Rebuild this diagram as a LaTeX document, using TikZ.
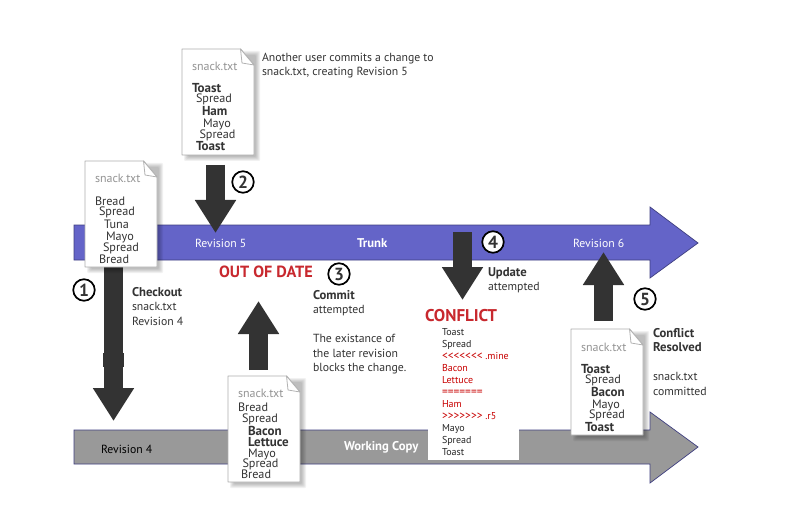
\documentclass[tikz,border=0pt]{standalone}
\usepackage{fontspec}
\setmainfont{PT Sans}
\usetikzlibrary{arrows.meta}
\definecolor{ink}{HTML}{333333}
\definecolor{trunkblue}{HTML}{6464C8}
\definecolor{edgeblue}{HTML}{3F3F80}
\definecolor{wcgray}{HTML}{999999}
\definecolor{alertred}{HTML}{C8282E}
\definecolor{mergered}{HTML}{C80000}
\tikzset{
  x=1pt,y=-1pt,
  lane/.style={draw=edgeblue,line width=0.7pt,line join=miter},
  blockarrow/.style={draw=ink,line width=19.5pt,-{Triangle[length=33pt,width=39pt,color=ink]}},
  docsheet/.style={draw=black!32,line width=0.9pt,fill=white,line join=round},
  docfold/.style={draw=black!30,line width=0.8pt,fill=white,line join=round},
  txt/.style={anchor=base west,inner sep=0pt,outer sep=0pt,font=\fontsize{11.75}{13}\selectfont,text=ink},
  doctxt/.style={txt,font=\fontsize{12.2}{13}\selectfont},
  docbold/.style={doctxt,font=\fontsize{13}{13}\selectfont\bfseries},
  doctitle/.style={txt,font=\fontsize{12}{13}\selectfont,text=black!42},
  boldtxt/.style={txt,font=\fontsize{12.7}{13}\selectfont\bfseries},
  lanetxt/.style={txt,text=white},
  lanebold/.style={boldtxt,text=white},
  alert/.style={txt,font=\fontsize{16.2}{16}\selectfont\bfseries,text=alertred},
  mtxt/.style={txt,font=\fontsize{10}{12}\selectfont,text=black!85},
  mred/.style={mtxt,text=mergered},
  stepmark/.style={circle,draw=black,line width=1.7pt,fill=white,minimum size=21.5pt,inner sep=0pt,font=\fontsize{17.5}{17}\selectfont\bfseries,text=ink},
}
\newcommand{\docshape}[2]{% top-left corner
  \begin{scope}[shift={(#1,#2)}]
    \foreach \e in {0,1,2,3,4}{
      \fill[black,opacity=0.055,rounded corners=1pt] (6-\e,6-\e) rectangle (74+\e,108+\e);
    }
    \draw[docsheet] (0,0) -- (58.5,0) -- (72,16) -- (72,106) -- (0,106) -- cycle;
    \draw[docfold] (58.5,0) -- (60,14) -- (72,16) -- cycle;
  \end{scope}}
\begin{document}
\begin{tikzpicture}
\useasboundingbox[fill=white] (0,0) rectangle (800,513);
% lanes
\draw[lane,fill=trunkblue] (74,225) -- (650,225) -- (650,207) -- (698,243) -- (650,278) -- (650,260) -- (74,260) -- cycle;
\draw[lane,fill=wcgray] (74,430) -- (650,430) -- (650,412) -- (698,447) -- (650,483) -- (650,464) -- (74,464) -- cycle;
% merge sheet backing
\fill[white] (428,322) rectangle (519,460);
% coordinates for arrows
\coordinate (c1a) at (113.5,262);
\coordinate (c1b) at (113.5,421);
\coordinate (c2a) at (215.5,165);
\coordinate (c2b) at (215.5,233);
\coordinate (c3a) at (258.5,370);
\coordinate (c3b) at (258.5,301);
\coordinate (c4a) at (462.5,232);
\coordinate (c4b) at (462.5,300);
\coordinate (c5a) at (603.5,321);
\coordinate (c5b) at (603.5,252);
\draw[blockarrow] (c1a) -- (c1b);
\fill[ink] (103.2,353) rectangle (123.8,367);
\draw[blockarrow] (c2a) -- (c2b);
\draw[blockarrow] (c3a) -- (c3b);
\draw[blockarrow] (c4a) -- (c4b);
\draw[blockarrow] (c5a) -- (c5b);
% documents
\docshape{182}{49}
\docshape{85}{161}
\docshape{228}{376}
\docshape{571}{329}
% doc 2
\node[doctitle] (b0) at (192,71) {snack.txt};
\node[docbold] (b1) at (192,93) {Toast};
\node[doctxt] (b2) at (196,103) {Spread};
\node[docbold] (b3) at (202,116) {Ham};
\node[doctxt] (b4) at (203,128) {Mayo};
\node[doctxt] (b5) at (199.5,139) {Spread};
\node[docbold] (b6) at (196,151) {Toast};
\node[txt] (an1) at (262,62) {Another user commits a change to};
\node[txt] (an2) at (262,76) {snack.txt, creating Revision 5};
% doc 1
\node[doctitle] (a0) at (95,183) {snack.txt};
\node[doctxt] (a1) at (95,205) {Bread};
\node[doctxt] (a2) at (99,215) {Spread};
\node[doctxt] (a3) at (104,228) {Tuna};
\node[doctxt] (a4) at (106,240) {Mayo};
\node[doctxt] (a5) at (103,251) {Spread};
\node[doctxt] (a6) at (99,263) {Bread};
% lane labels
\node[lanetxt] (r5) at (195,247) {Revision 5};
\node[lanebold] (trunk) at (357,247) {Trunk};
\node[lanetxt] (r6) at (573,247) {Revision 6};
\node[txt,text=black] (r4) at (101,453) {Revision 4};
\node[lanebold] (wc) at (344,450) {Working Copy};
% out of date
\node[alert] (ood) at (219,277) {OUT OF DATE};
\node[boldtxt] (co1) at (132,296) {Checkout};
\node[txt] (co2) at (132,310) {snack.txt};
\node[txt] (co3) at (132,325) {Revision 4};
\node[boldtxt] (cm1) at (313,299) {Commit};
\node[txt] (cm2) at (313,313) {attempted};
\node[txt] (cm3) at (313,342) {The existance of};
\node[txt] (cm4) at (313,357) {the later revision};
\node[txt] (cm5) at (313,371) {blocks the change.};
% doc 3
\node[doctitle] (d0) at (238,397) {snack.txt};
\node[doctxt] (d1) at (238,411) {Bread};
\node[doctxt] (d2) at (242,422) {Spread};
\node[docbold] (d3) at (248,435) {Bacon};
\node[docbold] (d4) at (248,446) {Lettuce};
\node[doctxt] (d5) at (248,457) {Mayo};
\node[doctxt] (d6) at (242.5,467) {Spread};
\node[doctxt] (d7) at (241,478) {Bread};
% update
\node[boldtxt] (up1) at (488,276) {Update};
\node[txt] (up2) at (488,290) {attempted};
\node[alert,font=\fontsize{17}{17}\selectfont\bfseries] (conf) at (425,321) {CONFLICT};
\node[mtxt] (m1) at (442,335) {Toast};
\node[mtxt] (m2) at (442,347) {Spread};
\node[mred] (m3) at (442,359) {{\fontsize{11.5}{12}\selectfont<{}<{}<{}<{}<{}<{}<} .mine};
\node[mred] (m4) at (442,371) {Bacon};
\node[mred] (m5) at (442,383) {Lettuce};
\node[mred] (m6) at (442,395) {{\fontsize{11.5}{12}\selectfont=======}};
\node[mred] (m7) at (442,407) {Ham};
\node[mred] (m8) at (442,419) {{\fontsize{11.5}{12}\selectfont>{}>{}>{}>{}>{}>{}>} .r5};
\node[mtxt] (m9) at (442,431) {Mayo};
\node[mtxt] (m10) at (442,443) {Spread};
\node[mtxt] (m11) at (442,455) {Toast};
% doc 5
\node[doctitle] (e0) at (581,351) {snack.txt};
\node[docbold] (e1) at (581,373) {Toast};
\node[doctxt] (e2) at (585,383) {Spread};
\node[docbold] (e3) at (591,396) {Bacon};
\node[doctxt] (e4) at (592,408) {Mayo};
\node[doctxt] (e5) at (589,418) {Spread};
\node[docbold] (e6) at (585,431) {Toast};
\node[boldtxt] (cr1) at (653,337) {Conflict};
\node[boldtxt] (cr2) at (653,351) {Resolved};
\node[txt] (cr3) at (653,380) {snack.txt};
\node[txt] (cr4) at (653,395) {committed};
% step marks
\node[stepmark] (s1) at (84,290) {1};
\node[stepmark] (s2) at (243,182) {2};
\node[stepmark] (s3) at (339,274) {3};
\node[stepmark] (s4) at (493,242) {4};
\node[stepmark] (s5) at (645,299) {5};
\end{tikzpicture}
\end{document}
